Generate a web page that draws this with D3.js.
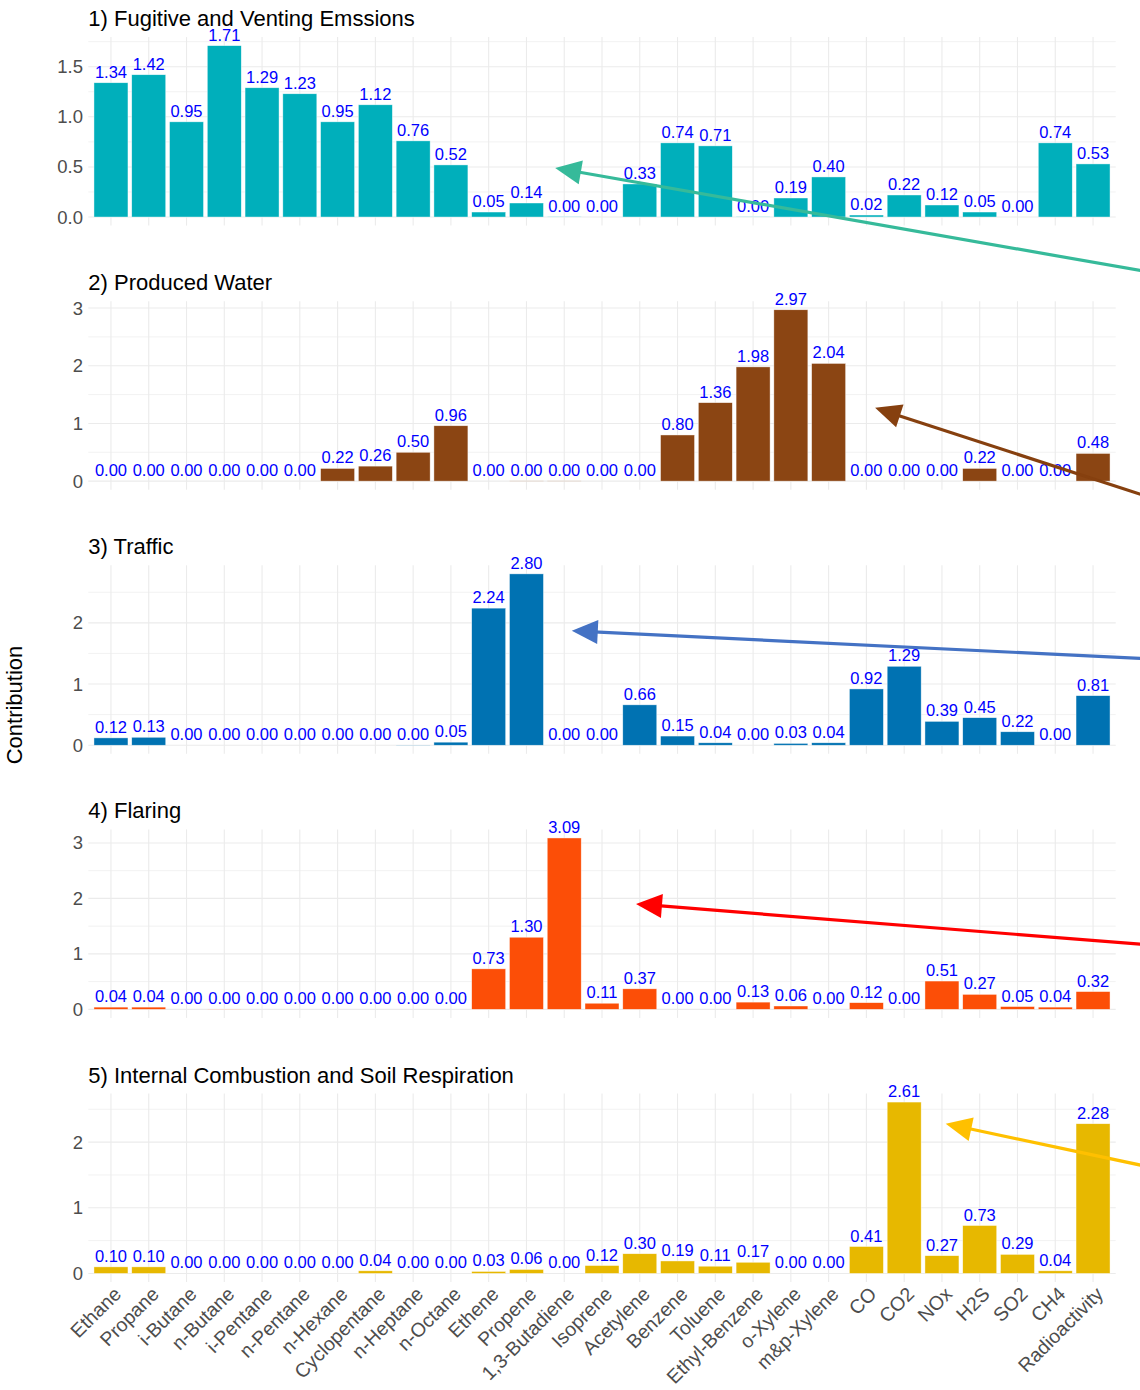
<!DOCTYPE html>
<html lang="en">
	<head>
		<meta charset="utf-8">
		<title>Source contributions</title>
		<script type="text/javascript" src="https://d3js.org/d3.v7.min.js"></script>
		<style>
			body { margin: 0; background: #fff; }
			text { font-family: "Liberation Sans", Arial, Helvetica, sans-serif; }
		</style>
	</head>
	<body>
		<script type="text/javascript">

			//
			// Data
			//

			var categories = ["Ethane", "Propane", "i-Butane", "n-Butane", "i-Pentane", "n-Pentane",
				"n-Hexane", "Cyclopentane", "n-Heptane", "n-Octane", "Ethene", "Propene",
				"1,3-Butadiene", "Isoprene", "Acetylene", "Benzene", "Toluene", "Ethyl-Benzene",
				"o-Xylene", "m&p-Xylene", "CO", "CO2", "NOx", "H2S", "SO2", "CH4", "Radioactivity"];

			var panelTitles = ["1) Fugitive and Venting Emssions", "2) Produced Water", "3) Traffic",
				"4) Flaring", "5) Internal Combustion and Soil Respiration"];

			var fugitive = [1.34, 1.42, 0.95, 1.71, 1.29, 1.23, 0.95, 1.12, 0.76, 0.52, 0.05, 0.14,
				0.004, 0.00, 0.33, 0.74, 0.71, 0.004, 0.19, 0.40, 0.02, 0.22, 0.12, 0.05, 0.00, 0.74, 0.53];

			var producedWater = [0.00, 0.00, 0.00, 0.00, 0.00, 0.00, 0.22, 0.26, 0.50, 0.96, 0.00, 0.004,
				0.004, 0.00, 0.00, 0.80, 1.36, 1.98, 2.97, 2.04, 0.00, 0.00, 0.00, 0.22, 0.00, 0.00, 0.48];

			var traffic = [0.12, 0.13, 0.00, 0.00, 0.00, 0.00, 0.00, 0.00, 0.004, 0.05, 2.24, 2.80,
				0.00, 0.00, 0.66, 0.15, 0.04, 0.00, 0.03, 0.04, 0.92, 1.29, 0.39, 0.45, 0.22, 0.00, 0.81];

			var flaring = [0.04, 0.04, 0.00, 0.004, 0.00, 0.00, 0.00, 0.00, 0.00, 0.00, 0.73, 1.30,
				3.09, 0.11, 0.37, 0.00, 0.00, 0.13, 0.06, 0.00, 0.12, 0.00, 0.51, 0.27, 0.05, 0.04, 0.32];

			var combustion = [0.10, 0.10, 0.00, 0.00, 0.00, 0.00, 0.00, 0.04, 0.00, 0.00, 0.03, 0.06,
				0.00, 0.12, 0.30, 0.19, 0.11, 0.17, 0.00, 0.00, 0.41, 2.61, 0.27, 0.73, 0.29, 0.04, 2.28];

			var barColors = ["#00AFBB", "#8B4513", "#0072B2", "#FC4E07", "#E7B800"];

			var yTicks = [[0, 0.5, 1, 1.5], [0, 1, 2, 3], [0, 1, 2], [0, 1, 2, 3], [0, 1, 2]];
			var yTickLabels = [["0.0", "0.5", "1.0", "1.5"], ["0", "1", "2", "3"], ["0", "1", "2"],
				["0", "1", "2", "3"], ["0", "1", "2"]];

			// callout arrows in data units: panel, category position (index) and value
			var arrowColors = ["#36BA9A", "#86400F", "#4472C4", "#FF0000", "#FFC000"];
			var arrowTips = [[11.76, 0.49], [20.23, 1.27], [12.2, 1.87], [13.9, 1.90], [22.1, 2.28]];
			var arrowTails = [[27.5, -0.55], [27.5, -0.28], [27.5, 1.41], [27.5, 1.16], [27.5, 1.62]];

			var seriesList = [fugitive, producedWater, traffic, flaring, combustion];

			//
			// Layout
			//

			var width = 1140, height = 1390;
			var plotLeft = 88.3, plotRight = 1115.7;
			var firstTop = 37.1, panelStep = 264.1, plotHeight = 188.5;

			var svg = d3.select("body")
				.append("svg")
				.attr("width", width)
				.attr("height", height);

			var x = d3.scaleBand()
				.domain(categories)
				.range([plotLeft, plotRight])
				.paddingInner(0.1)
				.paddingOuter(0.15);

			var xAt = function(idx) {
				return x(categories[0]) + x.bandwidth() / 2 + idx * x.step();
			};

			var fmt = d3.format(".2f");
			var yScales = [];

			var renderPanel = function(values, p) {

				var top = firstTop + p * panelStep;
				var bottom = top + plotHeight;
				var maxVal = d3.max(values);

				var y = d3.scaleLinear()
					.domain([-0.05 * maxVal, 1.05 * maxVal])
					.range([bottom, top]);
				yScales.push(y);

				var g = svg.append("g");

				// minor grid: halfway between major ticks, within the domain
				var ticks = yTicks[p];
				var half = (ticks[1] - ticks[0]) / 2;
				var minor = [];
				ticks.forEach(function(t) {
					if (t + half <= y.domain()[1]) minor.push(t + half);
				});

				g.selectAll(".minor")
					.data(minor)
					.enter()
					.append("line")
					.attr("x1", plotLeft).attr("x2", plotRight)
					.attr("y1", function(d) { return y(d); })
					.attr("y2", function(d) { return y(d); })
					.attr("stroke", "#F2F2F2")
					.attr("stroke-width", 1);

				g.selectAll(".major")
					.data(ticks)
					.enter()
					.append("line")
					.attr("x1", plotLeft).attr("x2", plotRight)
					.attr("y1", function(d) { return y(d); })
					.attr("y2", function(d) { return y(d); })
					.attr("stroke", "#EBEBEB")
					.attr("stroke-width", 1.1);

				g.selectAll(".vgrid")
					.data(categories)
					.enter()
					.append("line")
					.attr("x1", function(d) { return x(d) + x.bandwidth() / 2; })
					.attr("x2", function(d) { return x(d) + x.bandwidth() / 2; })
					.attr("y1", top).attr("y2", bottom)
					.attr("stroke", "#EBEBEB")
					.attr("stroke-width", 1.1);

				// y tick labels
				g.selectAll(".ytick")
					.data(ticks)
					.enter()
					.append("text")
					.attr("x", 83)
					.attr("y", function(d) { return y(d); })
					.attr("dy", "0.35em")
					.attr("text-anchor", "end")
					.attr("font-size", 18.5)
					.attr("fill", "#4D4D4D")
					.text(function(d, i) { return yTickLabels[p][i]; });

				// bars
				g.selectAll("rect")
					.data(values)
					.enter()
					.append("rect")
					.attr("x", function(d, i) { return x(categories[i]); })
					.attr("width", x.bandwidth())
					.attr("y", function(d) { return y(d); })
					.attr("height", function(d) { return y(0) - y(d); })
					.attr("fill", barColors[p])
					.attr("stroke", "#ffffff")
					.attr("stroke-opacity", 0.7)
					.attr("stroke-width", 0.6);

				// value labels
				g.selectAll(".val")
					.data(values)
					.enter()
					.append("text")
					.attr("x", function(d, i) { return x(categories[i]) + x.bandwidth() / 2; })
					.attr("y", function(d) { return y(d) - 5; })
					.attr("text-anchor", "middle")
					.attr("font-size", 16.5)
					.attr("fill", "#0000FF")
					.text(function(d) { return fmt(d); });

				// panel title
				g.append("text")
					.attr("x", plotLeft)
					.attr("y", top - 11)
					.attr("font-size", 22)
					.attr("fill", "#000")
					.text(panelTitles[p]);

				// category labels under the last panel
				if (p === seriesList.length - 1) {
					g.selectAll(".xtick")
						.data(categories)
						.enter()
						.append("text")
						.attr("transform", function(d) {
							return "translate(" + (x(d) + x.bandwidth() / 2 + 1) + "," + (bottom + 3) + ") rotate(-45)";
						})
						.attr("text-anchor", "end")
						.attr("dy", "0.75em")
						.attr("font-size", 19.5)
						.attr("fill", "#4D4D4D")
						.text(function(d) { return d; });
				}
			};

			var renderArrow = function(p) {

				var y = yScales[p];
				var x1 = xAt(arrowTails[p][0]), y1 = y(arrowTails[p][1]);
				var x2 = xAt(arrowTips[p][0]), y2 = y(arrowTips[p][1]);
				var ang = Math.atan2(y2 - y1, x2 - x1);
				var headLen = 26, headHalf = 12;
				var bx = x2 - headLen * Math.cos(ang), by = y2 - headLen * Math.sin(ang);

				svg.append("line")
					.attr("x1", x1).attr("y1", y1)
					.attr("x2", bx + 4 * Math.cos(ang)).attr("y2", by + 4 * Math.sin(ang))
					.attr("stroke", arrowColors[p])
					.attr("stroke-width", 3.2);

				var pts = [
					[x2, y2],
					[bx + headHalf * Math.sin(ang), by - headHalf * Math.cos(ang)],
					[bx - headHalf * Math.sin(ang), by + headHalf * Math.cos(ang)]
				];

				svg.append("polygon")
					.attr("points", pts.map(function(d) { return d.join(","); }).join(" "))
					.attr("fill", arrowColors[p]);
			};

			seriesList.forEach(function(values, p) {
				renderPanel(values, p);
			});

			seriesList.forEach(function(values, p) {
				renderArrow(p);
			});

			// shared y-axis title
			svg.append("text")
				.attr("transform", "translate(22,705) rotate(-90)")
				.attr("text-anchor", "middle")
				.attr("font-size", 22)
				.attr("fill", "#000")
				.text("Contribution");

		</script>
	</body>
</html>
